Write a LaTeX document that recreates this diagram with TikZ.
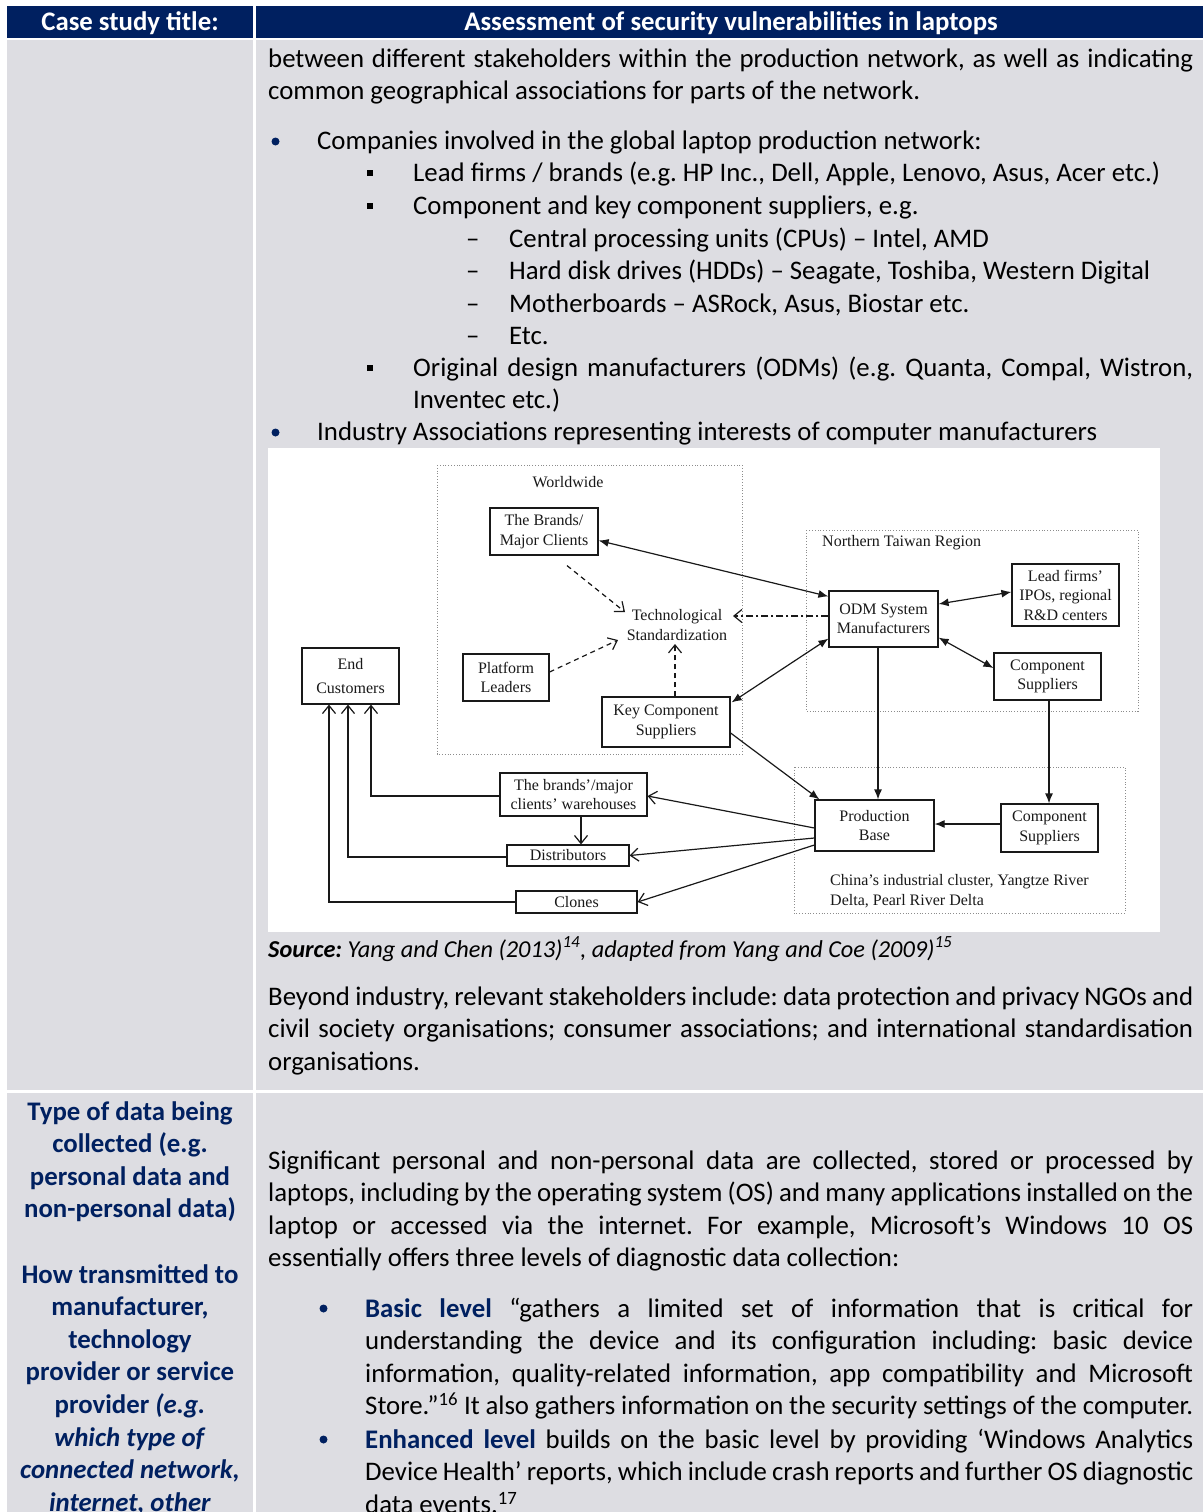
\documentclass[tikz,border=0pt]{standalone}
\usepackage{fontspec}
\setmainfont{Carlito}
\newfontfamily\dfont{Liberation Serif}
\usetikzlibrary{arrows.meta,calc}
\definecolor{navy}{RGB}{0,32,96}
\definecolor{cellgrey}{RGB}{221,221,226}
\definecolor{ink}{RGB}{25,25,25}
\frenchspacing
\tikzset{
  body/.style={anchor=base west, inner sep=0pt, font=\fontsize{26.8}{32.6}\selectfont},
  ctext/.style={anchor=base, inner sep=0pt, font=\fontsize{26.8}{32.6}\selectfont\bfseries, text=navy},
  head/.style={anchor=base, inner sep=0pt, font=\fontsize{26.8}{32.6}\selectfont\bfseries, text=white},
  dbox/.style={draw=ink, line width=1.2pt, fill=white, inner sep=0pt, align=center,
    font=\dfont\fontsize{16}{19.5}\selectfont, text=ink},
  dlabel/.style={inner sep=0pt, font=\dfont\fontsize{16}{19.5}\selectfont, text=ink},
  region/.style={draw=black!45, line width=0.8pt, dotted},
  conn/.style={draw=ink, line width=1.2pt},
  fhead/.style={-{Latex[length=10pt,width=8pt]}},
  fboth/.style={{Latex[length=10pt,width=8pt]}-{Latex[length=10pt,width=8pt]}},
  ohead/.style={-{Straight Barb[length=8pt,width=13pt,line width=1.2pt]}},
  dashln/.style={dash pattern=on 5pt off 4pt},
  dashdot/.style={dash pattern=on 7pt off 3pt on 2pt off 3pt}
}
\newcommand{\jl}[2]{{\spaceskip=0.226em plus 0.6em minus 0.09em\relax\xspaceskip=\spaceskip\makebox[#1pt][s]{#2}}}
\begin{document}
\begin{tikzpicture}[x=1pt,y=-1pt]
\useasboundingbox (0,0) rectangle (1203,1512);
\fill[white] (0,0) rectangle (1203,1512);
% table cells
\fill[navy] (7,6) rectangle (253,38);
\fill[navy] (256,6) rectangle (1203,38);
\fill[cellgrey] (7,40) rectangle (253,1090);
\fill[cellgrey] (256,40) rectangle (1203,1090);
\fill[cellgrey] (7,1093) rectangle (253,1512);
\fill[cellgrey] (256,1093) rectangle (1203,1512);
% header
\node[head] (h1) at (130,31) {Case study title:};
\node[head] (h2) at (731,31) {Assessment of security vulnerabilities in laptops};
% right column, row 1
\node[body] (r1) at (268,67) {\jl{925}{between different stakeholders within the production network, as well as indicating}};
\node[body] (r2) at (268,99.5) {common geographical associations for parts of the network.};
\fill[navy] (275.5,141.5) circle (4pt);
\node[body] (r3) at (317,149.5) {Companies involved in the global laptop production network:};
\fill[black] (367,170) rectangle (373,176);
\node[body] (r4) at (413,181.8) {Lead firms / brands (e.g. HP Inc., Dell, Apple, Lenovo, Asus, Acer etc.)};
\fill[black] (367,202.6) rectangle (373,208.6);
\node[body] (r5) at (413,214.4) {Component and key component suppliers, e.g.};
\node[body] (d1) at (466,247) {–};
\node[body] (r6) at (509,247) {Central processing units (CPUs) – Intel, AMD};
\node[body] (d2) at (466,279.6) {–};
\node[body] (r7) at (509,279.6) {Hard disk drives (HDDs) – Seagate, Toshiba, Western Digital};
\node[body] (d3) at (466,312.2) {–};
\node[body] (r8) at (509,312.2) {Motherboards – ASRock, Asus, Biostar etc.};
\node[body] (d4) at (466,344.8) {–};
\node[body] (r9) at (509,344.8) {Etc.};
\fill[black] (367,364.8) rectangle (373,370.8);
\node[body] (r10) at (413,376.6) {\jl{780}{Original design manufacturers (ODMs) (e.g. Quanta, Compal, Wistron,}};
\node[body] (r11) at (413,408.8) {Inventec etc.)};
\fill[navy] (275.5,432.5) circle (4pt);
\node[body] (r12) at (317,440.5) {Industry Associations representing interests of computer manufacturers};
% ---------------- diagram ----------------
\fill[white] (268,448) rectangle (1160,932);
\draw[region] (437,465) rectangle (742,754);
\draw[region] (806,530) rectangle (1138,711);
\draw[region] (794,767) rectangle (1125,913);
\node[dlabel] (lww) at (568,482) {Worldwide};
\node[dlabel, anchor=west] (ltw) at (822,543) {Northern Taiwan Region};
\node[dlabel, anchor=west] (lcn1) at (830,882) {China’s industrial cluster, Yangtze River};
\node[dlabel, anchor=west] (lcn2) at (830,901) {Delta, Pearl River Delta};

\node[dbox, minimum width=108pt, minimum height=47pt] (brands) at (544,531.5) {The Brands/\\Major Clients};
\node[dbox, minimum width=86pt, minimum height=47pt] (platform) at (506,677.5) {Platform\\Leaders};
\node[dbox, minimum width=97pt, minimum height=56pt, font=\dfont\fontsize{16}{24}\selectfont] (endc) at (350.5,676) {End\\Customers};
\node[dbox, minimum width=128pt, minimum height=50pt] (keycomp) at (666,722) {Key Component\\Suppliers};
\node[dbox, minimum width=109pt, minimum height=56pt] (odm) at (883.5,619) {ODM System\\Manufacturers};
\node[dbox, minimum width=107pt, minimum height=62pt] (lead) at (1065.5,595) {Lead firms’\\IPOs, regional\\R\&D centers};
\node[dbox, minimum width=107pt, minimum height=47pt] (comp1) at (1047.5,676.5) {Component\\Suppliers};
\node[dbox, minimum width=119pt, minimum height=51pt] (prod) at (874.5,825.5) {Production\\Base};
\node[dbox, minimum width=97pt, minimum height=48pt] (comp2) at (1049.5,828) {Component\\Suppliers};
\node[dbox, minimum width=147pt, minimum height=43pt] (ware) at (573.5,794.5) {The brands’/major\\clients’ warehouses};
\node[dbox, minimum width=122pt, minimum height=21pt] (dist) at (568,855.5) {Distributors};
\node[dbox, minimum width=121pt, minimum height=22pt] (clones) at (576.5,902) {Clones};
\node[dlabel, align=center] (tech) at (677,625) {Technological\\Standardization};

% connectors
\draw[conn, fboth] ($(brands.east)+(0,9)$) -- ($(odm.north west)+(0,6)$);
\draw[conn, dashln, ohead] ($(brands.south)+(23,10)$) -- ($(tech.center)+(-52,-13)$);
\draw[conn, dashln, ohead] ($(platform.east)+(0,-5.5)$) -- ($(tech.center)+(-59,15)$);
\draw[conn, dashln, ohead] ($(keycomp.north)+(9,0)$) -- ($(tech.center)+(-2,19)$);
\draw[conn, dashdot, ohead] ($(odm.west)+(0,-3)$) -- ($(tech.center)+(56,-9)$);
\draw[conn, fboth] ($(odm.south west)+(0,-9)$) -- ($(keycomp.north east)+(1,6)$);
\draw[conn, fboth] ($(odm.east)+(0,-15)$) -- ($(lead.west)+(0,-3)$);
\draw[conn, fboth] ($(odm.south east)+(0,-10)$) -- ($(comp1.west)+(0,-8.5)$);
\draw[conn, fhead] ($(odm.south)+(-5.5,0)$) -- ($(prod.north)+(3.5,0)$);
\draw[conn, fhead] ($(comp1.south)+(1.5,0)$) -- ($(comp2.north)+(-0.5,0)$);
\draw[conn, fhead] ($(comp2.west)+(0,-4)$) -- ($(prod.east)+(0,-1.5)$);
\draw[conn, fhead] ($(keycomp.east)+(0,11)$) -- ($(prod.north west)+(5,0)$);
\draw[conn, ohead] ($(prod.west)+(0,2.5)$) -- ($(ware.east)+(0,1.5)$);
\draw[conn, ohead] ($(prod.west)+(0,12.5)$) -- (dist.east);
\draw[conn, ohead] ($(prod.west)+(0,19.5)$) -- (clones.east);
\draw[conn, ohead] ($(ware.south)+(7.5,0)$) -- ($(dist.north)+(13,0)$);
\draw[conn, ohead] ($(ware.west)+(0,1.5)$) -| ($(endc.south)+(20.5,0)$);
\draw[conn, ohead] ($(dist.west)+(0,1.5)$) -| ($(endc.south)+(-2.5,0)$);
\draw[conn, ohead] (clones.west) -| ($(endc.south)+(-21.5,0)$);
% ---------------- after diagram ----------------
\node[body, font=\fontsize{24.3}{29}\selectfont] (src) at (268,957) {\textbf{\textit{Source:}} \textit{Yang and Chen (2013)\textsuperscript{14}, adapted from Yang and Coe (2009)\textsuperscript{15}}};
\node[body] (b1) at (268,1005) {\jl{925}{Beyond industry, relevant stakeholders include: data protection and privacy NGOs and}};
\node[body] (b2) at (268,1037.6) {\jl{925}{civil society organisations; consumer associations; and international standardisation}};
\node[body] (b3) at (268,1070.2) {organisations.};
% row 2 left
\node[ctext] (l1) at (130,1120) {Type of data being};
\node[ctext] (l2) at (130,1152.6) {collected (e.g.};
\node[ctext] (l3) at (130,1185.2) {personal data and};
\node[ctext] (l4) at (130,1217.8) {non-personal data)};
\node[ctext] (l5) at (130,1283) {How transmitted to};
\node[ctext] (l6) at (130,1315.6) {manufacturer,};
\node[ctext] (l7) at (130,1348.2) {technology};
\node[ctext] (l8) at (130,1380.8) {provider or service};
\node[ctext] (l9) at (130,1413.4) {provider \textit{(e.g.}};
\node[ctext] (l10) at (130,1446) {\textit{which type of}};
\node[ctext] (l11) at (130,1478.6) {\textit{connected network,}};
\node[ctext] (l12) at (130,1511.2) {\textit{internet, other}};
% row 2 right
\node[body] (s1) at (268,1169) {\jl{925}{Significant personal and non-personal data are collected, stored or processed by}};
\node[body] (s2) at (268,1201.6) {\jl{925}{laptops, including by the operating system (OS) and many applications installed on the}};
\node[body] (s3) at (268,1234.2) {\jl{925}{laptop or accessed via the internet. For example, Microsoft’s Windows 10 OS}};
\node[body] (s4) at (268,1266.8) {essentially offers three levels of diagnostic data collection:};
\fill[navy] (323.5,1308.5) circle (4pt);
\node[body] (k1) at (365,1317) {\jl{828}{\textbf{\color{navy}Basic level} “gathers a limited set of information that is critical for}};
\node[body] (k2) at (365,1349.6) {\jl{828}{understanding the device and its configuration including: basic device}};
\node[body] (k3) at (365,1382.2) {\jl{828}{information, quality-related information, app compatibility and Microsoft}};
\node[body] (k4) at (365,1414.8) {\jl{828}{Store.”\textsuperscript{16} It also gathers information on the security settings of the computer.}};
\fill[navy] (323.5,1439.5) circle (4pt);
\node[body] (e1) at (365,1448) {\jl{828}{\textbf{\color{navy}Enhanced level} builds on the basic level by providing ‘Windows Analytics}};
\node[body] (e2) at (365,1480.6) {\jl{828}{Device Health’ reports, which include crash reports and further OS diagnostic}};
\node[body] (e3) at (365,1513.2) {data events.\textsuperscript{17}};
\end{tikzpicture}
\end{document}
